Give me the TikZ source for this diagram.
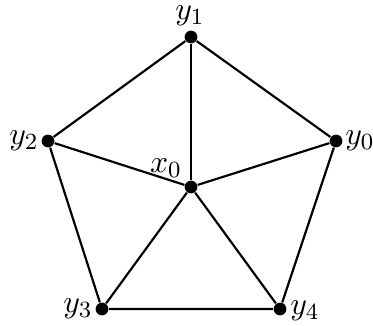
\documentclass[tikz,border=0pt]{standalone}
\begin{document}
\begin{tikzpicture}[x=0.345pt,y=-0.345pt,
  vtx/.style={circle,fill=black,inner sep=0pt,minimum size=4.4pt},
  lbl/.style={inner sep=0pt,font=\fontsize{10.8}{13}\selectfont},
  edge/.style={line width=0.75pt}]
\useasboundingbox (0,0) rectangle (373,325);
\node[vtx] (y1) at (191,37) {};
\node[vtx] (y2) at (48,141) {};
\node[vtx] (y0) at (336,141) {};
\node[vtx] (x0) at (191,187) {};
\node[vtx] (y3) at (102,309) {};
\node[vtx] (y4) at (280,309) {};
\node[lbl] (ly1) at (190,16) {$y_1$};
\node[lbl] (ly2) at (24,141) {$y_2$};
\node[lbl] (ly0) at (360,141) {$y_0$};
\node[lbl] (lx0) at (166,168) {$x_0$};
\node[lbl] (ly3) at (78,309) {$y_3$};
\node[lbl] (ly4) at (305,311) {$y_4$};
\draw[edge] (y1) -- (y2) -- (y3) -- (y4) -- (y0) -- (y1);
\draw[edge] (x0) -- (y1);
\draw[edge] (x0) -- (y2);
\draw[edge] (x0) -- (y0);
\draw[edge] (x0) -- (y3);
\draw[edge] (x0) -- (y4);
\end{tikzpicture}
\end{document}
